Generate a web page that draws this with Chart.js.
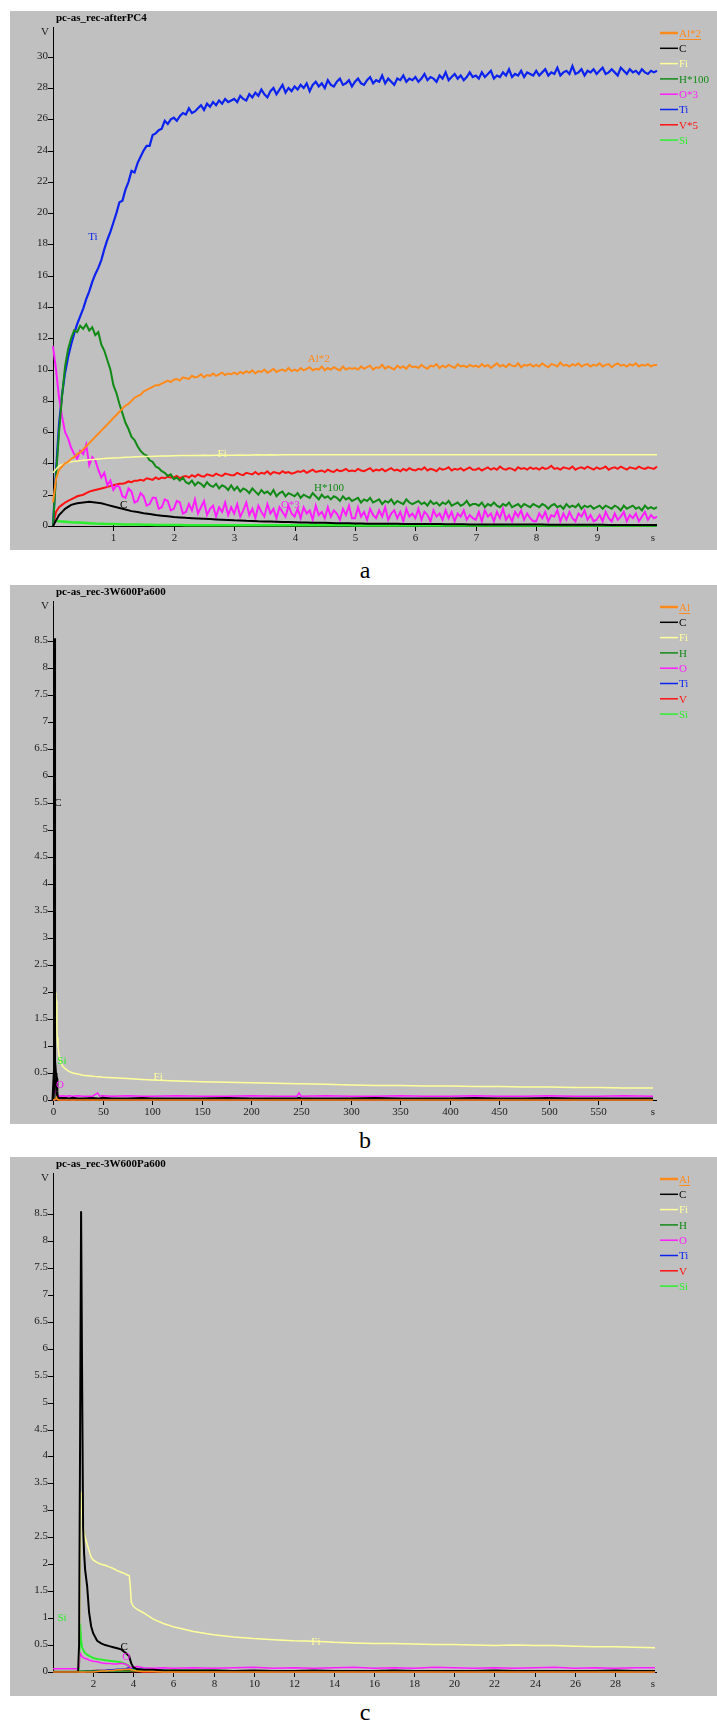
<!DOCTYPE html>
<html>
<head>
<meta charset="utf-8">
<script src="https://cdn.jsdelivr.net/npm/chart.js@4.4.1/dist/chart.umd.min.js"></script>
<style>
  html, body { margin: 0; padding: 0; background: #fff; }
  body { position: relative; width: 717px; height: 1724px; overflow: hidden; }
  .panel { position: absolute; left: 10px; width: 707px; height: 539px; background: #c0c0c0; }
  .panel canvas { display: block; }
  .caption {
    position: absolute; left: 0; width: 730px; text-align: center;
    font-family: 'Liberation Serif', 'Times New Roman', serif; font-size: 24px; line-height: 24px; color: #000;
  }
</style>
</head>
<body>
<div class="panel" style="top:11px"><canvas id="chart-a" width="707" height="539"></canvas></div>
<div class="caption" style="top:558px">a</div>
<div class="panel" style="top:585px"><canvas id="chart-b" width="707" height="539"></canvas></div>
<div class="caption" style="top:1128px">b</div>
<div class="panel" style="top:1157px"><canvas id="chart-c" width="707" height="539"></canvas></div>
<div class="caption" style="top:1700px">c</div>

<script>
// ---- shared series info ----
const seriesColours = ['#ff8a1c', '#000000', '#ffff9c', '#118a16', '#ff1cff', '#0c22ee', '#ff1212', '#2cf02c'];
const namesA = ['Al*2', 'C', 'Fi', 'H*100', 'O*3', 'Ti', 'V*5', 'Si'];
const namesBC = ['Al', 'C', 'Fi', 'H', 'O', 'Ti', 'V', 'Si'];

// ---- panel a: pc-as_rec-afterPC4 ----
// smooth traces sampled every 0.1 s
const timeA = [
  0, 0.1, 0.2, 0.3, 0.4, 0.5, 0.6, 0.7, 0.8, 0.9,
  1, 1.1, 1.2, 1.3, 1.4, 1.5, 1.6, 1.7, 1.8, 1.9,
  2, 2.1, 2.2, 2.3, 2.4, 2.5, 2.6, 2.7, 2.8, 2.9,
  3, 3.1, 3.2, 3.3, 3.4, 3.5, 3.6, 3.7, 3.8, 3.9,
  4, 4.1, 4.2, 4.3, 4.4, 4.5, 4.6, 4.7, 4.8, 4.9,
  5, 5.1, 5.2, 5.3, 5.4, 5.5, 5.6, 5.7, 5.8, 5.9,
  6, 6.1, 6.2, 6.3, 6.4, 6.5, 6.6, 6.7, 6.8, 6.9,
  7, 7.1, 7.2, 7.3, 7.4, 7.5, 7.6, 7.7, 7.8, 7.9,
  8, 8.1, 8.2, 8.3, 8.4, 8.5, 8.6, 8.7, 8.8, 8.9,
  9, 9.1, 9.2, 9.3, 9.4, 9.5, 9.6, 9.7, 9.8, 9.9,
  10,
];
// noisy traces sampled every 0.05 s (one row per second)
const timeFineA = [
  0, 0.05, 0.1, 0.15, 0.2, 0.25, 0.3, 0.35, 0.4, 0.45, 0.5, 0.55, 0.6, 0.65, 0.7, 0.75, 0.8, 0.85, 0.9, 0.95,
  1, 1.05, 1.1, 1.15, 1.2, 1.25, 1.3, 1.35, 1.4, 1.45, 1.5, 1.55, 1.6, 1.65, 1.7, 1.75, 1.8, 1.85, 1.9, 1.95,
  2, 2.05, 2.1, 2.15, 2.2, 2.25, 2.3, 2.35, 2.4, 2.45, 2.5, 2.55, 2.6, 2.65, 2.7, 2.75, 2.8, 2.85, 2.9, 2.95,
  3, 3.05, 3.1, 3.15, 3.2, 3.25, 3.3, 3.35, 3.4, 3.45, 3.5, 3.55, 3.6, 3.65, 3.7, 3.75, 3.8, 3.85, 3.9, 3.95,
  4, 4.05, 4.1, 4.15, 4.2, 4.25, 4.3, 4.35, 4.4, 4.45, 4.5, 4.55, 4.6, 4.65, 4.7, 4.75, 4.8, 4.85, 4.9, 4.95,
  5, 5.05, 5.1, 5.15, 5.2, 5.25, 5.3, 5.35, 5.4, 5.45, 5.5, 5.55, 5.6, 5.65, 5.7, 5.75, 5.8, 5.85, 5.9, 5.95,
  6, 6.05, 6.1, 6.15, 6.2, 6.25, 6.3, 6.35, 6.4, 6.45, 6.5, 6.55, 6.6, 6.65, 6.7, 6.75, 6.8, 6.85, 6.9, 6.95,
  7, 7.05, 7.1, 7.15, 7.2, 7.25, 7.3, 7.35, 7.4, 7.45, 7.5, 7.55, 7.6, 7.65, 7.7, 7.75, 7.8, 7.85, 7.9, 7.95,
  8, 8.05, 8.1, 8.15, 8.2, 8.25, 8.3, 8.35, 8.4, 8.45, 8.5, 8.55, 8.6, 8.65, 8.7, 8.75, 8.8, 8.85, 8.9, 8.95,
  9, 9.05, 9.1, 9.15, 9.2, 9.25, 9.3, 9.35, 9.4, 9.45, 9.5, 9.55, 9.6, 9.65, 9.7, 9.75, 9.8, 9.85, 9.9, 9.95,
  10,
];
const alA = [
  1.5, 3.0, 3.6, 3.8, 4.0, 4.1, 4.3, 4.4, 4.6, 4.7, 4.9, 5.1, 5.3, 5.5, 5.7, 5.9, 6.1, 6.3, 6.5, 6.7,
  6.9, 7.1, 7.3, 7.5, 7.7, 7.8, 8.0, 8.2, 8.3, 8.4, 8.6, 8.7, 8.8, 8.9, 9.0, 9.0, 9.1, 9.2, 9.3, 9.2,
  9.35, 9.4, 9.3, 9.5, 9.45, 9.4, 9.6, 9.5, 9.55, 9.7, 9.5, 9.65, 9.6, 9.75, 9.6, 9.7, 9.8, 9.65, 9.75, 9.7,
  9.8, 9.7, 9.85, 9.75, 9.9, 9.8, 9.95, 9.75, 9.9, 9.85, 10.0, 9.8, 9.9, 10.05, 9.85, 9.95, 10.0, 9.9, 10.1, 9.9,
  10.0, 9.9, 10.1, 9.95, 10.05, 10.15, 9.95, 10.05, 10.0, 10.2, 9.95, 10.1, 10.0, 10.15, 10.05, 9.95, 10.2, 10.0, 10.1, 10.05,
  10.1, 10.0, 10.2, 10.05, 10.15, 10.25, 10.0, 10.15, 10.1, 10.3, 10.05, 10.2, 10.1, 10.0, 10.25, 10.1, 10.2, 10.05, 10.3, 10.15,
  10.2, 10.1, 10.3, 10.15, 10.05, 10.25, 10.2, 10.35, 10.1, 10.25, 10.15, 10.3, 10.2, 10.1, 10.35, 10.2, 10.25, 10.15, 10.3, 10.2,
  10.25, 10.15, 10.35, 10.2, 10.3, 10.1, 10.25, 10.4, 10.2, 10.3, 10.15, 10.35, 10.25, 10.2, 10.4, 10.15, 10.3, 10.25, 10.35, 10.2,
  10.3, 10.2, 10.4, 10.25, 10.15, 10.35, 10.3, 10.2, 10.45, 10.25, 10.3, 10.2, 10.35, 10.25, 10.4, 10.2, 10.3, 10.35, 10.2, 10.3,
  10.25, 10.4, 10.2, 10.3, 10.35, 10.15, 10.3, 10.4, 10.25, 10.3, 10.2, 10.35, 10.25, 10.4, 10.2, 10.3, 10.25, 10.35, 10.2, 10.3,
  10.3,
];
const cA = [
  0, 0.7, 1.1, 1.35, 1.45, 1.5, 1.55, 1.5, 1.45, 1.35,
  1.25, 1.15, 1.05, 0.95, 0.9, 0.82, 0.76, 0.7, 0.66, 0.62,
  0.58, 0.55, 0.52, 0.5, 0.48, 0.46, 0.44, 0.42, 0.4, 0.38,
  0.36, 0.35, 0.33, 0.32, 0.3, 0.29, 0.28, 0.27, 0.26, 0.25,
  0.24, 0.23, 0.22, 0.21, 0.2, 0.2, 0.19, 0.18, 0.18, 0.17,
  0.16, 0.16, 0.15, 0.15, 0.15, 0.14, 0.14, 0.14, 0.13, 0.13,
  0.13, 0.12, 0.12, 0.12, 0.12, 0.11, 0.11, 0.11, 0.11, 0.1,
  0.1, 0.1, 0.1, 0.1, 0.1, 0.09, 0.09, 0.09, 0.09, 0.09,
  0.09, 0.09, 0.08, 0.08, 0.08, 0.08, 0.08, 0.08, 0.08, 0.08,
  0.08, 0.08, 0.07, 0.07, 0.07, 0.07, 0.07, 0.07, 0.07, 0.07,
  0.07,
];
const fiA = [
  3.4, 3.85, 4.0, 4.1, 4.15, 4.2, 4.24, 4.27, 4.3, 4.33,
  4.35, 4.37, 4.4, 4.41, 4.43, 4.44, 4.45, 4.46, 4.47, 4.48,
  4.49, 4.5, 4.5, 4.51, 4.5, 4.52, 4.51, 4.52, 4.53, 4.52,
  4.53, 4.54, 4.53, 4.54, 4.55, 4.54, 4.55, 4.54, 4.55, 4.55,
  4.55, 4.56, 4.55, 4.55, 4.56, 4.55, 4.56, 4.55, 4.55, 4.56,
  4.55, 4.56, 4.55, 4.56, 4.56, 4.55, 4.56, 4.55, 4.56, 4.56,
  4.55, 4.56, 4.56, 4.55, 4.56, 4.56, 4.55, 4.56, 4.56, 4.55,
  4.56, 4.56, 4.55, 4.56, 4.56, 4.56, 4.55, 4.56, 4.56, 4.56,
  4.55, 4.56, 4.56, 4.56, 4.55, 4.56, 4.56, 4.56, 4.56, 4.55,
  4.56, 4.56, 4.56, 4.55, 4.56, 4.56, 4.56, 4.56, 4.55, 4.56,
  4.56,
];
const hA = [
  0, 3.2, 6.0, 8.3, 10.2, 11.3, 12.0, 12.5, 12.4, 12.8, 12.6, 12.9, 12.5, 12.7, 12.2, 12.4, 11.6, 11.2, 10.6, 10.0,
  9.0, 8.5, 7.8, 7.2, 6.6, 6.2, 5.7, 5.5, 5.1, 4.8, 4.6, 4.5, 4.2, 4.1, 3.8, 3.7, 3.5, 3.4, 3.2, 3.3,
  3.0, 3.1, 2.9, 3.1, 2.8, 2.7, 2.9, 2.6, 2.8, 2.7, 2.5, 2.8, 2.6, 2.5, 2.7, 2.4, 2.6, 2.5, 2.3, 2.6,
  2.3, 2.5, 2.2, 2.4, 2.3, 2.1, 2.4, 2.2, 2.0, 2.3, 2.1, 2.2, 2.0, 2.3, 1.9, 2.1, 2.2, 1.9, 2.1, 2.0,
  1.9, 2.1, 1.8, 2.0, 1.9, 1.8, 2.1, 1.9, 1.7, 2.0, 1.8, 1.9, 1.7, 1.9, 1.8, 1.6, 1.9, 1.7, 1.8, 1.6,
  1.7, 1.8, 1.5, 1.7, 1.6, 1.8, 1.5, 1.6, 1.7, 1.4, 1.6, 1.5, 1.7, 1.4, 1.6, 1.5, 1.4, 1.7, 1.5, 1.4,
  1.5, 1.6, 1.4, 1.5, 1.3, 1.6, 1.4, 1.5, 1.3, 1.5, 1.4, 1.6, 1.3, 1.4, 1.5, 1.3, 1.4, 1.6, 1.3, 1.4,
  1.4, 1.3, 1.5, 1.2, 1.4, 1.3, 1.5, 1.3, 1.2, 1.4, 1.3, 1.5, 1.2, 1.3, 1.4, 1.2, 1.4, 1.3, 1.2, 1.4,
  1.3, 1.2, 1.4, 1.3, 1.1, 1.3, 1.4, 1.2, 1.3, 1.1, 1.4, 1.2, 1.3, 1.2, 1.4, 1.1, 1.3, 1.2, 1.3, 1.1,
  1.2, 1.3, 1.1, 1.3, 1.2, 1.1, 1.3, 1.2, 1.0, 1.3, 1.1, 1.2, 1.3, 1.1, 1.2, 1.0, 1.3, 1.1, 1.2, 1.1,
  1.2,
];
const oA = [
  11.5, 10.0, 8.2, 7.0, 6.0, 5.6, 5.0, 4.6, 4.3, 4.8, 4.6, 5.2, 3.9, 4.4, 4.2, 3.6, 3.1, 3.4, 2.6, 2.9,
  2.3, 2.6, 2.5, 1.9, 1.8, 2.4, 2.2, 1.5, 1.6, 2.1, 1.9, 1.3, 1.4, 1.8, 1.8, 1.1, 1.2, 1.7, 1.6, 1.0,
  1.1, 1.6, 1.5, 0.8, 0.9, 1.4, 1.0, 1.7, 0.8, 1.2, 1.6, 0.7, 1.1, 1.3, 0.6, 1.2, 0.9, 1.5, 0.7, 1.2,
  0.8, 1.4, 0.6, 1.0, 1.5, 0.7, 1.1, 0.5, 1.3, 0.9, 0.6, 1.4, 0.8, 1.1, 0.5, 1.2, 0.9, 0.6, 1.3, 0.8,
  0.6, 1.1, 0.5, 1.2, 0.8, 1.0, 0.4, 1.3, 0.7, 0.9, 0.5, 1.2, 0.6, 1.0, 0.8, 0.4, 1.1, 0.7, 1.3, 0.5,
  0.5, 1.2, 0.6, 0.9, 0.4, 1.1, 0.7, 0.5, 1.0, 0.6, 1.2, 0.4, 0.8, 1.0, 0.5, 0.9, 0.3, 1.1, 0.6, 0.8,
  0.5, 1.1, 0.4, 0.9, 0.7, 0.3, 1.0, 0.6, 0.8, 0.4, 1.0, 0.5, 0.9, 0.3, 0.8, 0.6, 1.0, 0.4, 0.7, 0.5,
  0.4, 0.9, 0.3, 1.0, 0.6, 0.8, 0.3, 0.9, 0.5, 1.1, 0.4, 0.7, 0.3, 0.9, 0.6, 1.0, 0.4, 0.8, 0.5, 0.3,
  0.3, 0.8, 0.5, 0.9, 0.3, 0.7, 0.6, 1.0, 0.3, 0.8, 0.4, 0.9, 0.5, 0.3, 0.8, 0.6, 1.0, 0.4, 0.7, 0.3,
  0.4, 0.7, 0.3, 0.9, 0.5, 0.3, 0.8, 0.4, 0.6, 0.9, 0.3, 0.7, 0.5, 0.8, 0.3, 0.6, 0.9, 0.4, 0.7, 0.5,
  0.6,
];
const tiA = [
  0, 3.5, 6.5, 8.4, 9.8, 10.8, 11.6, 12.3, 12.9, 13.4, 13.9, 14.5, 15.0, 15.6, 16.1, 16.5, 17.0, 17.7, 18.3, 18.8,
  19.4, 20.0, 20.7, 20.8, 21.5, 22.0, 22.7, 22.6, 23.2, 23.6, 24.0, 24.3, 24.3, 25.0, 25.1, 25.3, 25.4, 25.9, 25.7, 26.0,
  26.1, 25.9, 26.2, 26.4, 26.3, 26.7, 26.4, 26.5, 26.7, 26.9, 26.6, 27.0, 26.8, 27.1, 26.9, 27.2, 27.0, 27.3, 27.1, 27.2,
  27.3, 27.1, 27.5, 27.3, 27.2, 27.6, 27.4, 27.7, 27.5, 27.9, 27.6, 27.4, 27.8, 28.0, 27.6, 27.9, 28.2, 27.7, 28.0, 27.8,
  28.1, 27.9, 28.2, 28.0, 28.3, 27.8, 28.2, 28.4, 28.1, 28.3, 28.0, 28.5, 28.2, 28.1, 28.4, 28.6, 28.2, 28.3, 28.5, 28.1,
  28.4, 28.6, 28.3, 28.2, 28.5, 28.7, 28.3, 28.5, 28.4, 28.8, 28.3, 28.6, 28.4, 28.2, 28.6, 28.5, 28.8, 28.4, 28.6, 28.5,
  28.7, 28.4, 28.6, 28.9, 28.5, 28.7, 28.6, 28.4, 28.8, 28.6, 29.0, 28.5, 28.7, 28.9, 28.6, 28.8, 28.5, 28.7, 29.0, 28.7,
  28.8, 28.6, 29.0, 28.7, 28.9, 29.1, 28.6, 28.8, 28.7, 29.0, 28.8, 29.2, 28.7, 28.9, 28.8, 29.1, 28.7, 29.0, 28.9, 28.8,
  29.1, 28.8, 29.0, 29.2, 28.8, 29.0, 28.9, 29.3, 28.8, 29.0, 29.1, 28.9, 29.4, 28.9, 29.0, 29.2, 28.8, 29.1, 29.0, 29.2,
  28.9, 29.1, 29.3, 28.9, 29.0, 29.2, 29.0, 28.8, 29.3, 29.1, 28.9, 29.2, 29.0, 29.1, 28.9, 29.2, 29.0, 28.9, 29.1, 29.0,
  29.1,
];
const vA = [
  0, 0.9, 1.2, 1.35, 1.5, 1.6, 1.7, 1.8, 1.9, 1.95, 2.0, 2.1, 2.2, 2.25, 2.3, 2.35, 2.4, 2.45, 2.5, 2.55,
  2.6, 2.65, 2.7, 2.7, 2.75, 2.85, 2.8, 2.9, 2.9, 2.95, 2.9, 3.05, 3.0, 2.95, 3.1, 3.0, 3.1, 3.05, 3.15, 3.1,
  3.1, 3.2, 3.05, 3.15, 3.2, 3.1, 3.25, 3.15, 3.3, 3.2, 3.15, 3.3, 3.25, 3.2, 3.35, 3.25, 3.2, 3.35, 3.3, 3.25,
  3.25, 3.4, 3.3, 3.25, 3.4, 3.35, 3.3, 3.45, 3.3, 3.4, 3.35, 3.5, 3.3, 3.45, 3.4, 3.35, 3.5, 3.4, 3.45, 3.35,
  3.4, 3.5, 3.45, 3.55, 3.4, 3.5, 3.6, 3.45, 3.5, 3.55, 3.45, 3.6, 3.5, 3.45, 3.6, 3.5, 3.55, 3.65, 3.5, 3.55,
  3.5, 3.65, 3.55, 3.5, 3.6, 3.7, 3.5, 3.6, 3.55, 3.65, 3.5, 3.6, 3.7, 3.55, 3.6, 3.5, 3.65, 3.55, 3.7, 3.6,
  3.55, 3.65, 3.6, 3.75, 3.55, 3.65, 3.6, 3.5, 3.7, 3.6, 3.65, 3.75, 3.55, 3.65, 3.6, 3.7, 3.55, 3.65, 3.75, 3.6,
  3.6, 3.7, 3.55, 3.65, 3.75, 3.6, 3.7, 3.6, 3.8, 3.65, 3.6, 3.7, 3.65, 3.55, 3.75, 3.65, 3.7, 3.6, 3.75, 3.65,
  3.7, 3.6, 3.75, 3.65, 3.7, 3.85, 3.65, 3.7, 3.6, 3.75, 3.7, 3.65, 3.8, 3.6, 3.7, 3.75, 3.65, 3.8, 3.7, 3.6,
  3.75, 3.65, 3.7, 3.8, 3.6, 3.7, 3.75, 3.65, 3.8, 3.7, 3.6, 3.75, 3.7, 3.65, 3.8, 3.7, 3.65, 3.75, 3.7, 3.65,
  3.8,
];
const siA = [
  0.35, 0.3, 0.27, 0.24, 0.22, 0.2, 0.18, 0.16, 0.15, 0.13,
  0.12, 0.11, 0.1, 0.09, 0.09, 0.08, 0.08, 0.07, 0.07, 0.06,
  0.06, 0.06, 0.05, 0.05, 0.05, 0.05, 0.05, 0.04, 0.04, 0.04,
  0.04, 0.04, 0.04, 0.04, 0.04, 0.04, 0.04, 0.04, 0.04, 0.04,
  0.04, 0.04, 0.04, 0.04, 0.04, 0.04, 0.04, 0.04, 0.04, 0.04,
  0.03, 0.03, 0.03, 0.03, 0.03, 0.03, 0.03, 0.03, 0.03, 0.03,
  0.03, 0.03, 0.03, 0.03, 0.03, 0.03, 0.03, 0.03, 0.03, 0.03,
  0.03, 0.03, 0.03, 0.03, 0.03, 0.03, 0.03, 0.03, 0.03, 0.03,
  0.03, 0.03, 0.03, 0.03, 0.03, 0.03, 0.03, 0.03, 0.03, 0.03,
  0.03, 0.03, 0.03, 0.03, 0.03, 0.03, 0.03, 0.03, 0.03, 0.03,
  0.03,
];
const yTicksA = [0, 2, 4, 6, 8, 10, 12, 14, 16, 18, 20, 22, 24, 26, 28, 30];
const xTicksA = [1, 2, 3, 4, 5, 6, 7, 8, 9];
// in-plot labels: text, time, value, series index
const notesA = [
  ['Ti', 0.66, 18.5, 5],
  ['Al*2', 4.4, 10.65, 0],
  ['Fi', 2.8, 4.6, 2],
  ['H*100', 4.57, 2.45, 3],
  ['O*3', 3.93, 1.35, 4],
  ['C', 1.17, 1.35, 1],
];

// ---- panel b: pc-as_rec-3W600Pa600, full run ----
const timeB = [
  0, 1.0, 1.3, 1.35, 1.4, 1.45, 1.5, 1.7, 2, 2.5,
  3, 3.5, 3.9, 4.2, 5, 6, 8, 10, 13, 16,
  20, 25, 30, 40, 45, 47, 50, 60, 75, 90,
  100, 125, 150, 175, 200, 225, 246, 248, 250, 275,
  300, 325, 350, 375, 400, 425, 450, 475, 500, 525,
  550, 575, 605,
];
const alB = [
  0, 0, 0, 0, 0, 0, 0, 0, 0.01, 0.02,
  0.03, 0.05, 0.05, 0.02, 0.01, 0, 0, 0, 0, 0,
  0, 0, 0, 0, 0, 0, 0, 0, 0, 0,
  0, 0, 0, 0, 0, 0, 0, 0, 0, 0,
  0, 0, 0, 0, 0, 0, 0, 0, 0, 0,
  0, 0, 0,
];
const cB = [
  0, 0, 0.5, 4.3, 8.55, 5.5, 2.7, 1.6, 0.72, 0.5,
  0.46, 0.4, 0.16, 0.05, 0.04, 0.03, 0.03, 0.03, 0.03, 0.02,
  0.03, 0.02, 0.02, 0.03, 0.02, 0.02, 0.03, 0.02, 0.02, 0.03,
  0.02, 0.02, 0.02, 0.03, 0.02, 0.02, 0.02, 0.03, 0.02, 0.02,
  0.02, 0.03, 0.02, 0.02, 0.02, 0.03, 0.02, 0.02, 0.03, 0.02,
  0.02, 0.02, 0.02,
];
const fiB = [
  0, 0, 0.3, 1.5, 3.35, 3.0, 2.75, 2.37, 2.08, 1.99,
  1.92, 1.83, 1.3, 1.16, 0.98, 0.84, 0.69, 0.62, 0.57, 0.53,
  0.5, 0.48, 0.46, 0.44, 0.43, 0.43, 0.42, 0.41, 0.4, 0.38,
  0.37, 0.35, 0.34, 0.33, 0.32, 0.31, 0.3, 0.3, 0.3, 0.29,
  0.28, 0.27, 0.27, 0.26, 0.26, 0.25, 0.25, 0.24, 0.24, 0.23,
  0.23, 0.22, 0.22,
];
const hB = [
  0.01, 0.01, 0.02, 0.03, 0.03, 0.03, 0.03, 0.03, 0.03, 0.03,
  0.03, 0.03, 0.02, 0.02, 0.02, 0.02, 0.02, 0.02, 0.02, 0.02,
  0.02, 0.02, 0.02, 0.02, 0.02, 0.02, 0.02, 0.02, 0.02, 0.02,
  0.02, 0.02, 0.02, 0.02, 0.02, 0.02, 0.02, 0.02, 0.02, 0.02,
  0.02, 0.02, 0.02, 0.02, 0.02, 0.02, 0.02, 0.02, 0.02, 0.02,
  0.02, 0.02, 0.02,
];
const oB = [
  0.06, 0.06, 0.1, 0.35, 0.32, 0.28, 0.27, 0.24, 0.2, 0.17,
  0.15, 0.15, 0.08, 0.1, 0.07, 0.08, 0.07, 0.08, 0.07, 0.08,
  0.07, 0.08, 0.07, 0.07, 0.13, 0.07, 0.08, 0.07, 0.08, 0.07,
  0.07, 0.08, 0.07, 0.07, 0.08, 0.07, 0.07, 0.13, 0.07, 0.08,
  0.07, 0.07, 0.08, 0.07, 0.07, 0.08, 0.07, 0.07, 0.08, 0.07,
  0.07, 0.08, 0.07,
];
const tiB = [
  0, 0, 0, 0, 0.01, 0.01, 0.01, 0.02, 0.02, 0.03,
  0.04, 0.06, 0.08, 0.06, 0.04, 0.02, 0.01, 0.01, 0.01, 0.01,
  0.01, 0.01, 0.01, 0.01, 0.01, 0.01, 0.01, 0.01, 0.01, 0.01,
  0.01, 0.01, 0.01, 0.01, 0.01, 0.01, 0.01, 0.01, 0.01, 0.01,
  0.01, 0.01, 0.01, 0.01, 0.01, 0.01, 0.01, 0.01, 0.01, 0.01,
  0.01, 0.01, 0.01,
];
const vB = [
  0, 0, 0, 0, 0, 0, 0.01, 0.02, 0.02, 0.03,
  0.03, 0.03, 0.02, 0.01, 0, 0, 0, 0, 0, 0,
  0, 0, 0, 0, 0, 0, 0, 0, 0, 0,
  0, 0, 0, 0, 0, 0, 0, 0, 0, 0,
  0, 0, 0, 0, 0, 0, 0, 0, 0, 0,
  0, 0, 0,
];
const siB = [
  0, 0, 0.1, 0.9, 0.6, 0.45, 0.42, 0.32, 0.26, 0.22,
  0.2, 0.17, 0.07, 0.04, 0.03, 0.03, 0.03, 0.02, 0.02, 0.02,
  0.02, 0.02, 0.02, 0.02, 0.02, 0.02, 0.02, 0.02, 0.02, 0.02,
  0.02, 0.02, 0.02, 0.02, 0.02, 0.02, 0.02, 0.02, 0.02, 0.02,
  0.02, 0.02, 0.02, 0.02, 0.02, 0.02, 0.02, 0.02, 0.02, 0.02,
  0.02, 0.02, 0.02,
];
const yTicksBC = [0, 0.5, 1, 1.5, 2, 2.5, 3, 3.5, 4, 4.5, 5, 5.5, 6, 6.5, 7, 7.5, 8, 8.5];
const xTicksB = [0, 50, 100, 150, 200, 250, 300, 350, 400, 450, 500, 550];
const notesB = [
  ['C', 5, 5.5, 1],
  ['Si', 9, 0.72, 7],
  ['O', 7, 0.28, 4],
  ['Fi', 106, 0.42, 2],
];

// ---- panel c: same run, first 30 s ----
const timeC = [
  0, 0.5, 1, 1.25, 1.3, 1.35, 1.4, 1.45, 1.5, 1.55,
  1.6, 1.7, 1.8, 1.9, 2, 2.2, 2.4, 2.6, 2.8, 3,
  3.2, 3.4, 3.6, 3.7, 3.8, 3.85, 3.9, 4, 4.2, 4.5,
  5, 5.5, 6, 7, 8, 9, 10, 11, 12, 13,
  14, 15, 16, 17, 18, 19, 20, 21, 22, 23,
  24, 25, 26, 27, 28, 29, 30,
];
const alC = [
  0, 0, 0, 0, 0, 0, 0, 0, 0, 0,
  0, 0, 0, 0, 0, 0.01, 0.02, 0.02, 0.03, 0.03,
  0.04, 0.04, 0.05, 0.05, 0.05, 0.05, 0.04, 0.03, 0.02, 0.01,
  0.01, 0, 0, 0, 0, 0, 0, 0, 0, 0,
  0, 0, 0, 0, 0, 0, 0, 0, 0, 0,
  0, 0, 0, 0, 0, 0, 0,
];
const cC = [
  0, 0, 0, 0, 0.5, 4.3, 8.55, 5.5, 2.7, 2.2,
  1.9, 1.6, 1.1, 0.85, 0.72, 0.58, 0.53, 0.5, 0.48, 0.46,
  0.44, 0.42, 0.36, 0.33, 0.29, 0.22, 0.16, 0.09, 0.05, 0.04,
  0.04, 0.03, 0.03, 0.03, 0.03, 0.02, 0.03, 0.02, 0.02, 0.03,
  0.02, 0.02, 0.02, 0.03, 0.02, 0.02, 0.02, 0.02, 0.03, 0.02,
  0.02, 0.02, 0.02, 0.02, 0.03, 0.02, 0.02,
];
const fiC = [
  0, 0, 0, 0, 0.3, 1.5, 3.35, 3.0, 2.75, 2.6,
  2.5, 2.37, 2.25, 2.13, 2.08, 2.03, 2.0, 1.98, 1.95, 1.92,
  1.88, 1.85, 1.82, 1.8, 1.79, 1.6, 1.3, 1.22, 1.16, 1.1,
  0.98, 0.9, 0.84, 0.75, 0.69, 0.65, 0.62, 0.6, 0.58, 0.57,
  0.55, 0.54, 0.53, 0.53, 0.52, 0.51, 0.51, 0.5, 0.49, 0.5,
  0.49, 0.49, 0.48, 0.47, 0.47, 0.46, 0.45,
];
const hC = [
  0.01, 0.01, 0.01, 0.01, 0.01, 0.02, 0.02, 0.02, 0.02, 0.02,
  0.02, 0.02, 0.02, 0.02, 0.02, 0.02, 0.02, 0.02, 0.02, 0.02,
  0.02, 0.02, 0.02, 0.02, 0.02, 0.02, 0.02, 0.02, 0.02, 0.02,
  0.01, 0.01, 0.01, 0.01, 0.01, 0.01, 0.01, 0.01, 0.01, 0.01,
  0.01, 0.01, 0.01, 0.01, 0.01, 0.01, 0.01, 0.01, 0.01, 0.01,
  0.01, 0.01, 0.01, 0.01, 0.01, 0.01, 0.01,
];
const oC = [
  0.06, 0.06, 0.06, 0.06, 0.1, 0.35, 0.32, 0.28, 0.27, 0.26,
  0.25, 0.24, 0.22, 0.21, 0.2, 0.19, 0.17, 0.16, 0.16, 0.15,
  0.15, 0.16, 0.15, 0.13, 0.1, 0.09, 0.08, 0.09, 0.1, 0.08,
  0.07, 0.08, 0.07, 0.08, 0.07, 0.08, 0.09, 0.07, 0.08, 0.07,
  0.08, 0.09, 0.07, 0.08, 0.07, 0.09, 0.08, 0.07, 0.08, 0.07,
  0.08, 0.09, 0.07, 0.08, 0.07, 0.08, 0.08,
];
const tiC = [
  0, 0, 0, 0, 0, 0, 0.01, 0.01, 0.01, 0.01,
  0.02, 0.02, 0.02, 0.02, 0.02, 0.03, 0.03, 0.03, 0.04, 0.04,
  0.05, 0.05, 0.06, 0.07, 0.08, 0.08, 0.08, 0.07, 0.06, 0.05,
  0.04, 0.03, 0.02, 0.02, 0.01, 0.01, 0.01, 0.01, 0.01, 0.01,
  0.01, 0.01, 0.01, 0.01, 0.01, 0.01, 0.01, 0.01, 0.01, 0.01,
  0.01, 0.01, 0.01, 0.01, 0.01, 0.01, 0.01,
];
const vC = [
  0, 0, 0, 0, 0, 0, 0, 0, 0, 0,
  0.01, 0.02, 0.02, 0.02, 0.03, 0.03, 0.03, 0.03, 0.03, 0.03,
  0.03, 0.03, 0.03, 0.03, 0.02, 0.02, 0.01, 0.01, 0.01, 0,
  0, 0, 0, 0, 0, 0, 0, 0, 0, 0,
  0, 0, 0, 0, 0, 0, 0, 0, 0, 0,
  0, 0, 0, 0, 0, 0, 0,
];
const siC = [
  0, 0, 0, 0, 0.1, 0.9, 0.6, 0.45, 0.42, 0.38,
  0.35, 0.32, 0.3, 0.28, 0.26, 0.24, 0.23, 0.22, 0.21, 0.2,
  0.19, 0.18, 0.15, 0.13, 0.11, 0.09, 0.07, 0.05, 0.04, 0.04,
  0.03, 0.03, 0.03, 0.03, 0.03, 0.02, 0.02, 0.02, 0.02, 0.02,
  0.02, 0.02, 0.02, 0.02, 0.02, 0.02, 0.02, 0.02, 0.02, 0.02,
  0.02, 0.02, 0.02, 0.02, 0.02, 0.02, 0.02,
];
const xTicksC = [2, 4, 6, 8, 10, 12, 14, 16, 18, 20, 22, 24, 26, 28];
const notesC = [
  ['Si', 0.45, 1.0, 7],
  ['C', 3.55, 0.47, 1],
  ['O', 3.65, 0.27, 4],
  ['Fi', 13.1, 0.56, 2],
];

const serifFont = "'Liberation Serif', 'Times New Roman', serif";

function strokeLine(ctx, x1, y1, x2, y2) {
  ctx.beginPath();
  ctx.moveTo(x1, y1);
  ctx.lineTo(x2, y2);
  ctx.stroke();
}

const panelFrame = {
  id: 'panelFrame',
  beforeDatasetsDraw(chart, args, opts) {
    const { ctx, chartArea: area, scales } = chart;
    const xScale = scales.x;
    const yScale = scales.y;
    ctx.save();
    ctx.strokeStyle = '#000';
    ctx.lineWidth = 1;
    strokeLine(ctx, area.left + 0.5, area.top, area.left + 0.5, area.bottom + 0.5);
    strokeLine(ctx, area.left, area.bottom + 0.5, area.right, area.bottom + 0.5);

    ctx.fillStyle = '#1c1c1c';
    ctx.font = `11px ${serifFont}`;
    ctx.textAlign = 'right';
    ctx.textBaseline = 'alphabetic';
    opts.yTicks.forEach((value) => {
      const py = Math.round(yScale.getPixelForValue(value)) + 0.5;
      strokeLine(ctx, area.left - 5, py, area.left, py);
      ctx.fillText(String(value), area.left - 5, py + 1);
    });

    ctx.textAlign = 'center';
    ctx.textBaseline = 'middle';
    opts.xTicks.forEach((value) => {
      const px = Math.round(xScale.getPixelForValue(value)) + 0.5;
      strokeLine(ctx, px, area.bottom - 2, px, area.bottom + 5);
      ctx.fillText(String(value), px, area.bottom + 12);
    });
    ctx.fillText('s', area.right - 4, area.bottom + 12);
    ctx.fillText('V', area.left - 8, area.top + 5);

    ctx.fillStyle = '#000';
    ctx.textAlign = 'left';
    ctx.font = `bold 11px ${serifFont}`;
    ctx.fillText(opts.title, area.left + 3, 7);
    ctx.restore();
  },
  afterDatasetsDraw(chart, args, opts) {
    const { ctx, chartArea: area, scales } = chart;
    ctx.save();
    ctx.font = `11px ${serifFont}`;
    ctx.textAlign = 'center';
    ctx.textBaseline = 'middle';
    opts.notes.forEach(([text, t, v, idx]) => {
      ctx.fillStyle = seriesColours[idx];
      ctx.fillText(text, scales.x.getPixelForValue(t), scales.y.getPixelForValue(v));
    });

    // legend at the right edge, line then name
    ctx.textAlign = 'left';
    chart.data.datasets.forEach((ds, i) => {
      const y = 22 + i * 15.3;
      ctx.strokeStyle = ds.borderColor;
      ctx.lineWidth = i === 0 ? 2.5 : 1.5;
      strokeLine(ctx, area.right + 3, y, area.right + 21, y);
      ctx.fillStyle = ds.borderColor;
      ctx.fillText(ds.label, area.right + 22, y + 1);
      if (i === 0) {
        const w = ctx.measureText(ds.label).width;
        ctx.lineWidth = 1;
        strokeLine(ctx, area.right + 22, y + 6.5, area.right + 22 + w, y + 6.5);
      }
    });
    ctx.restore();
  },
};

function buildPanel(canvasId, settings) {
  const { series, names, widths, xMax, yMax, xTicks, yTicks, title, notes } = settings;
  const datasets = series.map(([time, values], i) => ({
    label: names[i],
    data: time.map((t, k) => ({ x: t, y: values[k] })),
    borderColor: seriesColours[i],
    borderWidth: widths[i],
    pointRadius: 0,
    tension: 0,
    clip: false,
  }));

  return new Chart(document.getElementById(canvasId), {
    type: 'line',
    data: { datasets },
    plugins: [panelFrame],
    options: {
      responsive: false,
      animation: false,
      layout: { padding: { left: 43, right: 60, top: 16, bottom: 24 } },
      scales: {
        x: { type: 'linear', min: 0, max: xMax, display: false },
        y: { type: 'linear', min: 0, max: yMax, display: false },
      },
      plugins: {
        legend: { display: false },
        tooltip: { enabled: false },
        panelFrame: { title, xTicks, yTicks, notes },
      },
    },
  });
}

buildPanel('chart-a', {
  series: [
    [timeFineA, alA], [timeA, cA], [timeA, fiA], [timeFineA, hA],
    [timeFineA, oA], [timeFineA, tiA], [timeFineA, vA], [timeA, siA],
  ],
  names: namesA,
  widths: [2, 2, 1.5, 2, 2, 2.2, 2, 2.5],
  xMax: 10,
  yMax: 31.9,
  xTicks: xTicksA,
  yTicks: yTicksA,
  title: 'pc-as_rec-afterPC4',
  notes: notesA,
});

buildPanel('chart-b', {
  series: [
    [timeB, alB], [timeB, cB], [timeB, fiB], [timeB, hB],
    [timeB, oB], [timeB, tiB], [timeB, vB], [timeB, siB],
  ],
  names: namesBC,
  widths: [1.5, 3, 1.5, 1.5, 1.5, 1.5, 1.5, 2],
  xMax: 609,
  yMax: 9.24,
  xTicks: xTicksB,
  yTicks: yTicksBC,
  title: 'pc-as_rec-3W600Pa600',
  notes: notesB,
});

buildPanel('chart-c', {
  series: [
    [timeC, alC], [timeC, cC], [timeC, fiC], [timeC, hC],
    [timeC, oC], [timeC, tiC], [timeC, vC], [timeC, siC],
  ],
  names: namesBC,
  widths: [1.5, 2, 1.5, 1.5, 1.5, 1.5, 1.5, 2],
  xMax: 30.1,
  yMax: 9.26,
  xTicks: xTicksC,
  yTicks: yTicksBC,
  title: 'pc-as_rec-3W600Pa600',
  notes: notesC,
});
</script>
</body>
</html>
